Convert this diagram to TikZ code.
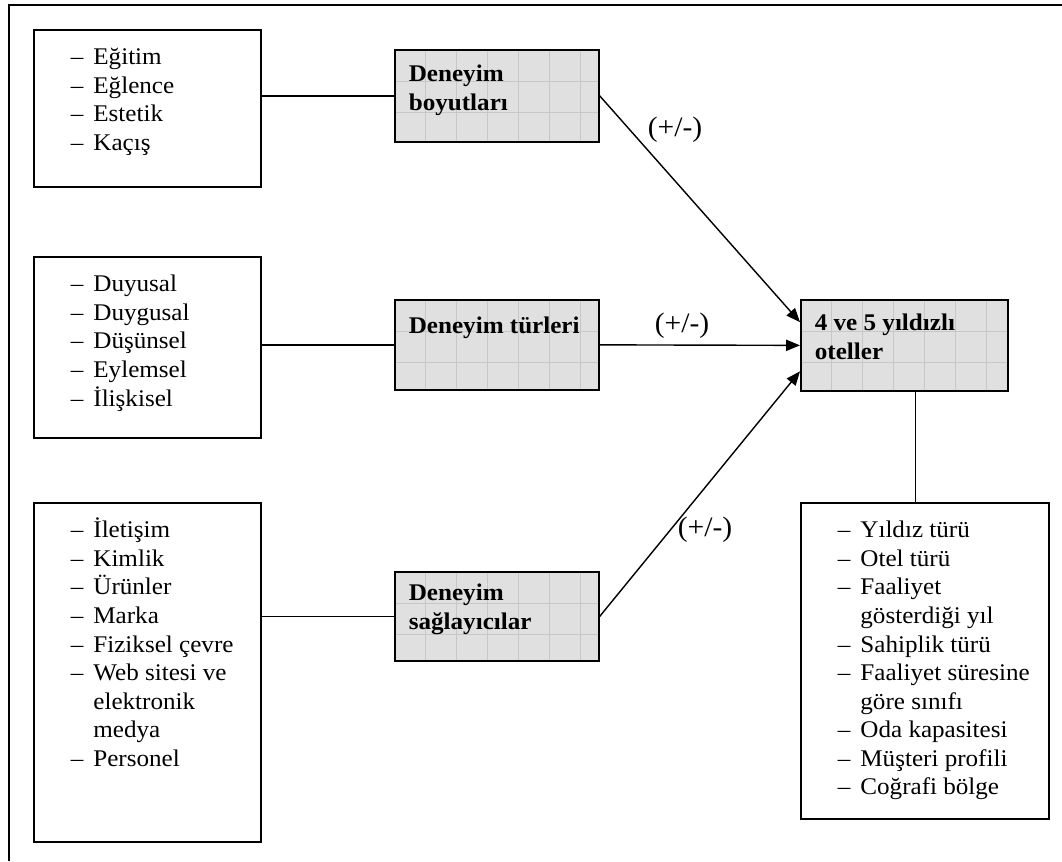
\documentclass[tikz,border=0pt]{standalone}
\usepackage{fontspec}
\setmainfont{Liberation Serif}[FakeStretch=1.05]
\usetikzlibrary{calc,arrows.meta}
\newcommand{\kutu}[4][0.375cm]{\parbox[c][#3][t]{#2}{\vspace*{#1}#4}}
\newcommand{\maddeler}[1]{\begin{tabular}{@{\hspace*{0.925cm}}l@{\hspace{0.25cm}}l@{}}#1\end{tabular}}
\newcommand{\baslik}[1]{\begin{tabular}{@{\hspace*{0.35cm}}l@{}}#1\end{tabular}}
\newcommand{\madde}{\textendash}

\begin{document}
\begin{tikzpicture}[x=0.025cm,y=-0.025cm,
	every node/.style={font=\fontsize{17}{20.3}\selectfont},
	liste/.style={draw, line width=1.2pt, inner sep=0pt, anchor=north west},
	gri/.style={liste, fill=black!12,
		path picture={
			\foreach \i in {1,...,6}
				\draw[black!22, line width=0.4pt] ($(path picture bounding box.north west)+(31*\i-1,0)$) -- ++(0,95);
			\foreach \j in {1,2}
				\draw[black!22, line width=0.4pt] ($(path picture bounding box.north west)+(0,31*\j)$) -- ++(215,0);
		}},
	cizgi/.style={line width=1pt},
	ok/.style={line width=1pt, -{Triangle[length=0.35cm,width=0.28cm]}},
	etiket/.style={font=\fontsize{20}{24}\selectfont}]
		%%%%% START %%%%%
		\useasboundingbox (0,0) rectangle (1062,861);
		\draw[line width=1.2pt] (9,861) -- (9,5) -- (1062,5);
		
		% sol kutular
		\node[liste] (boyutlar) at (33,29) {\kutu{5.675cm}{3.925cm}{\maddeler{
			\madde & Eğitim\\ \madde & Eğlence\\ \madde & Estetik\\ \madde & Kaçış}}};
		\node[liste] (turler) at (33,256) {\kutu{5.675cm}{4.525cm}{\maddeler{
			\madde & Duyusal\\ \madde & Duygusal\\ \madde & Düşünsel\\ \madde & Eylemsel\\ \madde & İlişkisel}}};
		\node[liste] (saglayicilar) at (33,502) {\kutu{5.675cm}{8.475cm}{\maddeler{
			\madde & İletişim\\ \madde & Kimlik\\ \madde & Ürünler\\ \madde & Marka\\ \madde & Fiziksel çevre\\
			\madde & Web sitesi ve\\ & elektronik\\ & medya\\ \madde & Personel}}};
		
		% gri kutular
		\node[gri] (deneyimB) at (394,49) {\kutu[0.3cm]{5.1cm}{2.3cm}{\baslik{\textbf{Deneyim}\\ \textbf{boyutları}}}};
		\node[gri] (deneyimT) at (394,299) {\kutu[0.35cm]{5.1cm}{2.25cm}{\baslik{\textbf{Deneyim türleri}}}};
		\node[gri] (deneyimS) at (394,571) {\kutu[0.225cm]{5.1cm}{2.225cm}{\baslik{\textbf{Deneyim}\\ \textbf{sağlayıcılar}}}};
		\node[gri] (otel) at (800,299) {\kutu[0.275cm]{5.175cm}{2.275cm}{\baslik{\textbf{4 ve 5 yıldızlı}\\ \textbf{oteller}}}};
		
		\node[liste] (ozellik) at (800,502) {\kutu{6.2cm}{7.9cm}{\maddeler{
			\madde & Yıldız türü\\ \madde & Otel türü\\ \madde & Faaliyet\\ & gösterdiği yıl\\ \madde & Sahiplik türü\\
			\madde & Faaliyet süresine\\ & göre sınıfı\\ \madde & Oda kapasitesi\\ \madde & Müşteri profili\\ \madde & Coğrafi bölge}}};
		
		% baglantilar
		\draw[cizgi] (deneyimB.west) -- (deneyimB.west -| boyutlar.east);
		\draw[cizgi] (deneyimT.west) -- (deneyimT.west -| turler.east);
		\draw[cizgi] (deneyimS.west) -- (deneyimS.west -| saglayicilar.east);
		
		\draw[ok] (deneyimB.east) -- ($(otel.north west)!0.25!(otel.south west)$);
		\draw[ok] (deneyimT.east) -- (otel.west);
		\draw[ok] (deneyimS.east) -- ($(otel.north west)!0.78!(otel.south west)$);
		
		\coordinate (alt) at ($(otel.south)+(11,0)$);
		\draw[cizgi] (alt) -- (alt |- ozellik.north);
		
		\node[etiket] (e1) at (675,130) {(+/-)};
		\node[etiket] (e2) at (682,326) {(+/-)};
		\node[etiket] (e3) at (705,530) {(+/-)};
		%%%%% END %%%%%
\end{tikzpicture}
\end{document}
